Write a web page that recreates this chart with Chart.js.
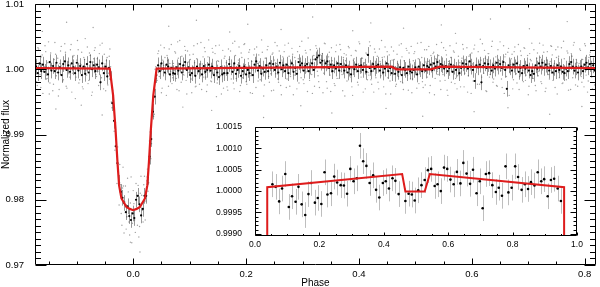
<!DOCTYPE html>
<html>
<head>
<meta charset="utf-8">
<title>Phase-folded light curve</title>
<script src="https://cdn.jsdelivr.net/npm/chart.js@4.4.1/dist/chart.umd.min.js"></script>
<style>
  html, body { margin: 0; padding: 0; background: #fff; }
  #wrap { position: relative; width: 600px; height: 287px; }
  #main { position: absolute; left: 0; top: 0; }
  #inset { position: absolute; left: 215px; top: 118px; }
</style>
</head>
<body>
<div id="wrap">
  <canvas id="main" width="600" height="287"></canvas>
  <canvas id="inset" width="370" height="135"></canvas>
</div>
<script>
// flux values below are in units of 1e-4 relative to 1.0 unless noted

// binned points (black, with error bars), evenly spaced in phase
const binStart = -0.172, binStep = 0.003;
const binErr = 0.0012;
const binFlux = [
  4, -6, 9, -3, 7, -4, 2, -8, 11, -2, 5, -3, 10, -5, 3, -9, 8, 12, -1, 6,
  -4, 9, 3, -6, 10, -2, 5, -9, 4, -7, 8, -5, 11, 0, 6, -3, 7, 3, -20, 9,
  -6, 4, -11, 2,
  // transit
  -15, -52, -79, -118, -144, -174, -188, -197, -205, -219, -210, -225, -231, -221,
  -228, -200, -194, -207, -224, -214, -194, -194, -165, -134, -107, -65, -42, -9,
  // after transit
  6, -3, 9, 1, -5, 7, 4, -8, 2, -6,   -7, 3, -2, 8, -5, 6, 11, -1, 3, -9,
  -6, 2, -10, 4, -3, 1, -8, 5, -4, -1,   7, -2, 4, -9, 1, -5, -12, 3, -8, -6,
  2, -6, 8, 3, -4, 9, -7, -1, 5, -10,   -3, 4, -8, -1, -6, 2, -9, 7, 12, -2,
  5, -7, 1, -4, 6, -3, 9, 2, 8, -1,   4, -5, 10, 0, 6, -3, 7, -6, 3, 9,
  -4, 2, -7, 11, 6, 9, -2, 5, 8, -3,   4, 9, -1, 15, 18, 21, 10, 13, 3, 9,
  12, 2, 7, -3, 6, 1, 9, -2, 8, 4,   -2, 6, -5, 1, -8, 3, 0, 7, -3, 5,
  6, -1, 4, -4, 22, 2, -3, 8, 1, 5,   7, -2, 4, -5, 1, 9, -3, 2, -6, 3,
  -7, 1, -4, 3, -9, 2, -1, -6, 4, -3,   -5, -1, 3, -8, 4, 0, -3, 6, -2, 5,
  3, 7, -1, 9, 4, 11, 2, 8, 6, 1,   5, -3, 2, 7, -4, 4, -1, 3, -6, 2,
  9, 3, 8, 1, 12, 4, -1, -18, 6, 3,   7, -20, 5, 9, 2, 8, 3, -2, 6, 1,
  10, 4, 8, 2, 11, -1, -30, 6, 3, -2,   7, 3, 9, -4, 2, -6, 5, 1, 6, -2,
  -9, -3, -7, 6, 1, 9, 4, 10, 2, 7,   3, -2, 5, -5, 2, -3, 6, -1, 4, -4,
  -6, 1, -3, 8, 11, 4, -2, 3, -5, 2,   4, -3, 7, 10, 3, 8, 1, 6, -2
];

// unbinned points (light grey), two interleaved phase grids
const rawStep = 0.0025, rawStartA = -0.1725, rawStartB = -0.17125;
const rawA = [
  12, -25, 31, -8, 19, -37, 4, 27, -14, 42, -21, 6, -33, 15, 23, -5, -41, 9, 35, -18,
  2, 26, -29, 11, -12, 38, -6, 21, -45, 14, 30, -16, 7, -27, 18, 47, -9, -22, 25, 3,
  -35, 16, 33, -11, -3, 24, -19, 40, -30, 8, 13, -24, 20,
  4, -59, -41, -124, -116, -119, -208, -177, -239, -179, -203, -245, -167, -234, -205, -266,
  -186, -231, -175, -239, -257, -190, -193, -234, -164, -202, -153, -174, -96, -114, -61, -69, 4,
  -17, 28, 5, -36, 14, 33, -7, 21, -26, 9, 38, -13, -2, 25, -31, 17, 44, -20, 6, -9,
  29, -38, 11, 22, -15, 3, 36, -27, 16, -4, -23, 41, 8, -12, 27, -34, 19, 1, -18, 32,
  -6, 24, -42, 13, 37, -10, 5, -29, 20, 10, -32, 15, 28, -3, -21, 43, -14, 7, 34, -25,
  18, -8, 39, -19, 2, 26, -36, 12, -1, 31, -28, 9, 22, -16, 45, -5, -24, 17, 30, -11,
  4, -33, 25, 14, -7, 36, -20, 8, -39, 19, 27, -2, -15, 40, -26, 11, 23, -9, 3, -30,
  16, 35, -13, 6, -22, 29, -4, 48, -17, 10, -37, 21, 1, 32, -10, -28, 15, 24, -6, 39,
  -19, 7, 26, -34, 13, 2, -25, 37, 9, -14, 30, -8, 18, -41, 22, 5, 33, -12, -27, 14,
  1, 28, -20, 42, -3, 17, -35, 10, 25, -16, -9, 36, -23, 6, 31, -13, 20, -30, 12, 44,
  -5, 19, -38, 27, 8, -18, 34, -1, 15, -26, 23, -11, 4, 39, -21, 13, -7, 29, -32, 11,
  35, -15, 24, -4, -29, 16, 2, 41, -19, 7, -24, 30, 12, -36, 21, -2, 26, -14, 38, -8,
  14, -31, 5, 33, -17, 22, -40, 9, 18, -3, 28, -22, 40, -10, 3, -27, 17, 31, -6, 13,
  -35, 20, -1, 25, -18, 37, 6, -23, 11, 46, -12, 2, 29, -33, 15, 24, -8, 35, -20, 4,
  19, -26, 10, 42, -15, 7, -37, 23, 1, 32, -4, 16, -30, 27, 9, -21, 38, -11, 21, -2,
  33, -17, 6, -39, 24, 13, -6, 30, -25, 17, -10, 40, -19, 3, 26, -34, 14, 8, -15, 36,
  22, -7, -28, 18, 34, -13, 5, -22, 43, 0, -16, 25, 11, -31, 20, 37, -3, 15, -26, 9,
  29, -20, 3, 39, -9, -35, 18, 26, -12, 7, -24, 21
];
const rawB = [
  -19, 33, 7, -28, 22, -4, 36, -15, 10, -38, 25, 1, -23, 41, -10, 17, -31, 28, 5, -16,
  39, -26, 12, -7, 30, -35, 19, 3, -12, 44, -21, 8, 26, -30, 15, -2, 34, -17, 21, -40,
  11, 29, -8, 16, -25, 37, -13, 4, 23, -33, 18, -6, 31,
  -50, -32, -95, -82, -175, -152, -146, -221, -182, -251, -179, -226, -188, -254, -165, -236,
  -206, -250, -194, -178, -241, -164, -216, -177, -231, -171, -187, -110, -137, -65, -72, 0, -14,
  24, -11, 37, -29, 6, 18, -40, 13, 31, -3, -22, 9, 27, -14, 42, -33, 2, 20, -8, 35,
  -17, 28, -5, 15, -36, 23, 10, -26, 39, -1, 8, -31, 19, 33, -12, -24, 45, 4, -19, 26,
  -9, 36, -21, 12, 1, -38, 29, 17, -6, -27, 31, 3, -15, 40, -30, 21, -2, 14, -34, 25,
  -13, 38, 7, -23, 16, 30, -10, -37, 22, 5, 34, -18, 11, -4, 26, -41, 17, 2, 35, -20,
  -7, 23, -32, 41, 9, -15, 28, -25, 14, 1, 37, -28, 6, 20, -11, 32, -39, 18, -2, 27,
  -21, 12, 43, -16, 4, 25, -34, 10, 30, -8, 15, -26, 36, -3, -19, 22, 7, -36, 40, 11,
  -29, 19, -9, 33, 2, -22, 27, -14, 5, 38, -4, -33, 24, 13, -18, 35, -7, 21, -40, 16,
  29, 0, -24, 39, -12, 17, 8, -30, 23, -5, 42, -16, 10, -35, 26, 3, -20, 31, -10, 18,
  -27, 34, 6, -13, 22, -38, 14, 28, -1, -23, 9, 37, -19, 19, -31, 4, 32, -9, 25, -15,
  -36, 13, 27, -5, 40, -22, 1, 18, -28, 30, 11, -12, 35, -25, 7, 24, -39, 16, -3, 21,
  -18, 41, -8, 3, 29, -32, 12, 36, -20, 6, 26, -14, -30, 20, 10, -4, 38, -27, 15, 33,
  -10, 22, -37, 8, 31, -17, 5, 27, -23, 14, 39, -6, 17, -34, 24, -12, 2, 43, -15, 9,
  -25, 30, 13, -2, -28, 36, 19, -11, 26, -40, 7, 23, -16, 34, -7, 11, -31, 28, 4, -19,
  32, -9, 21, -26, 15, 40, -14, 1, -33, 25, -3, 18, -22, 37, 6, -29, 27, -8, 12, 35,
  -17, 9, 30, -38, 20, -1, 33, -21, 16, -6, 28, -32, 4, 24, -13, 41, -24, 10, -5, 31,
  -11, 15, -27, 36, 3, -18, 22, 38, -30, 8, 19, -9
];
// scattered outliers
const outPhase = [-0.161, -0.137, -0.118, -0.092, -0.071, -0.055, 0.063, 0.088, 0.112, 0.139,
  0.171, 0.203, 0.231, 0.262, 0.297, 0.318, 0.352, 0.389, 0.421, 0.448, 0.479, 0.513,
  0.546, 0.571, 0.604, 0.633, 0.664, 0.702, 0.738, 0.769, 0.795, 0.812, -0.005, 0.012, -0.018];
const outFlux = [58, -61, 72, -55, 64, -70, 66, -58, 75, -63, 57, 69, -74, 61, -56, 80, -67,
  59, 71, -60, 63, -72, 68, 55, -65, 77, -59, 62, -69, 73, -57, 60, -265, -280, -150];

// model (red)
const modelPhase = [-0.174, -0.0415, -0.0356, -0.0314, -0.0279, -0.025, -0.0208, -0.016, -0.012,
  -0.006, 0, 0.006, 0.012, 0.016, 0.0208, 0.025, 0.0279, 0.0314, 0.0356, 0.0415,
  0.457, 0.467, 0.527, 0.543, 0.82];
const modelFlux = [1.00017, 1.00009, 0.9960, 0.9909, 0.9858, 0.9822, 0.9802, 0.9795, 0.9789,
  0.9786, 0.9784, 0.9786, 0.9789, 0.9795, 0.9802, 0.9822, 0.9858, 0.9909, 0.9960, 1.00009,
  1.00040, 0.99999, 0.99999, 1.00040, 1.00018];

// inset: out-of-transit zoom (absolute flux)
const insetPhase = [0.054, 0.064, 0.075, 0.084, 0.094, 0.105, 0.115, 0.126, 0.135, 0.145,
  0.156, 0.166, 0.174, 0.186, 0.195, 0.206, 0.216, 0.225, 0.236, 0.246,
  0.255, 0.266, 0.276, 0.286, 0.296, 0.306, 0.316, 0.326, 0.336, 0.346,
  0.356, 0.367, 0.376, 0.386, 0.397, 0.406, 0.416, 0.427, 0.436, 0.446,
  0.467, 0.477, 0.487, 0.496, 0.507,
  0.517, 0.527, 0.537, 0.547, 0.558, 0.567, 0.577, 0.587, 0.597, 0.607,
  0.617, 0.627, 0.638, 0.647, 0.657, 0.668, 0.677, 0.688, 0.698, 0.707,
  0.717, 0.727, 0.737, 0.748, 0.757, 0.767, 0.778, 0.787, 0.797, 0.808,
  0.817, 0.828, 0.838, 0.848, 0.857, 0.868, 0.878, 0.889, 0.898, 0.909,
  0.919, 0.929, 0.940, 0.950];
const insetFlux = [1.00016, 1.00010, 0.99976, 1.00006, 1.00040, 0.99963, 0.99988, 0.99975, 1.00010, 0.99969,
  0.99944, 0.99993, 1.00019, 0.99973, 0.99984, 0.99970, 1.00044, 0.99992, 0.99995, 1.00034,
  1.00020, 1.00014, 1.00013, 0.99994, 1.00052, 1.00023, 1.00030, 1.00106, 1.00070, 1.00059,
  1.00019, 1.00037, 1.00003, 0.99985, 1.00019, 1.00023, 1.00006, 1.00030, 1.00024, 0.99993,
  0.99977, 0.99994, 0.99992, 0.99978, 1.00002,
  1.00014, 1.00026, 1.00049, 1.00052, 1.00012, 1.00016, 1.00000, 1.00055, 1.00052, 1.00027,
  1.00016, 1.00045, 1.00018, 1.00066, 1.00041, 1.00017, 1.00050, 0.99995, 1.00023, 0.99960,
  1.00040, 1.00042, 1.00014, 0.99998, 1.00008, 0.99989, 1.00058, 0.99997, 1.00008, 1.00058,
  1.00033, 1.00003, 1.00016, 1.00005, 1.00021, 1.00013, 1.00044, 1.00023, 1.00028, 0.99988,
  1.00026, 1.00029, 1.00006, 0.99977];
const insetErr = 0.0003;
const insetModelPhase = [0.038, 0.038, 0.457, 0.467, 0.527, 0.543, 0.960, 0.960];
const insetModelFlux = [0.9980, 1.00009, 1.00040, 0.99999, 0.99999, 1.00040, 1.00009, 0.9980];

// axis ticks
const xTicks = [0.0, 0.2, 0.4, 0.6, 0.8];
const yTicks = [0.97, 0.98, 0.99, 1.00, 1.01];
const insetXTicks = [0.0, 0.2, 0.4, 0.6, 0.8, 1.0];
const insetYTicks = [0.9990, 0.9995, 1.0000, 1.0005, 1.0010, 1.0015];

const e4 = v => 1 + v * 1e-4;
const RED = 'rgb(222,28,28)';
const FONT = "'Liberation Sans', Arial, sans-serif";

function eachTick(scale, minor, major, fn) {
  const n0 = Math.ceil(scale.min / minor - 1e-6), n1 = Math.floor(scale.max / minor + 1e-6);
  for (let n = n0; n <= n1; n++) {
    const v = n * minor, r = v / major;
    fn(v, Math.abs(r - Math.round(r)) < 1e-6);
  }
}

// box frame with inward major/minor ticks on all four sides (IDL style)
const frameTicks = {
  id: 'frameTicks',
  beforeDatasetsDraw(chart, args, o) {
    if (!o.fill) return;
    const a = chart.chartArea, ctx = chart.ctx;
    ctx.save();
    ctx.fillStyle = o.fill;
    ctx.fillRect(a.left, a.top, a.right - a.left, a.bottom - a.top);
    ctx.restore();
  },
  afterDatasetsDraw(chart, args, o) {
    const {ctx, chartArea: a, scales: {x, y}} = chart;
    const L = a.left + 0.5, R = a.right - 0.5, T = a.top + 0.5, B = a.bottom - 0.5;
    ctx.save();
    ctx.strokeStyle = '#000';
    ctx.lineWidth = 1;
    ctx.beginPath();
    eachTick(x, o.xMinor, o.xMajor, (v, major) => {
      const p = Math.round(x.getPixelForValue(v)) + 0.5;
      const len = major ? o.xLen : o.xLen / 2;
      ctx.moveTo(p, B); ctx.lineTo(p, B - len);
      ctx.moveTo(p, T); ctx.lineTo(p, T + len);
    });
    eachTick(y, o.yMinor, o.yMajor, (v, major) => {
      const p = Math.round(y.getPixelForValue(v)) + 0.5;
      const len = major ? o.yLen : o.yLen / 2;
      ctx.moveTo(L, p); ctx.lineTo(L + len, p);
      ctx.moveTo(R, p); ctx.lineTo(R - len, p);
    });
    ctx.rect(L, T, R - L, B - T);
    ctx.stroke();
    ctx.restore();
  }
};

const errorBars = {
  id: 'errorBars',
  beforeDatasetDraw(chart, args) {
    const ds = chart.data.datasets[args.index];
    if (!ds.err) return;
    const {ctx, chartArea: a, scales: {y}} = chart;
    ctx.save();
    ctx.beginPath();
    ctx.rect(a.left, a.top, a.right - a.left, a.bottom - a.top);
    ctx.clip();
    ctx.strokeStyle = ds.errColor;
    ctx.lineWidth = 1;
    ctx.beginPath();
    args.meta.data.forEach((pt, i) => {
      const v = ds.data[i].y, px = Math.round(pt.x) + 0.5;
      ctx.moveTo(px, y.getPixelForValue(v + ds.err));
      ctx.lineTo(px, y.getPixelForValue(v - ds.err));
    });
    ctx.stroke();
    ctx.restore();
  }
};

function axis(min, max, ticks, digits, size, fitSize, horizontal, title, pad) {
  return {
    type: 'linear', min: min, max: max,
    grid: {display: false}, border: {display: false},
    afterBuildTicks: s => { s.ticks = ticks.map(v => ({value: v})); },
    afterFit: s => {
      if (horizontal) { s.height = fitSize; s.paddingLeft = 0; s.paddingRight = 0; }
      else { s.width = fitSize; s.paddingTop = 0; s.paddingBottom = 0; }
    },
    ticks: {autoSkip: false, maxRotation: 0, padding: pad, color: '#000',
      font: {family: FONT, size: size}, callback: v => Number(v).toFixed(digits)},
    title: {display: !!title, text: title || '', color: '#000',
      font: {family: FONT, size: 10}, padding: {top: horizontal ? -2 : 0, bottom: horizontal ? -2 : 0}}
  };
}

const binPts = binFlux.map((v, i) => ({x: binStart + i * binStep, y: e4(v)}));
const rawPts = rawA.map((v, i) => ({x: rawStartA + i * rawStep, y: e4(v)}))
  .concat(rawB.map((v, i) => ({x: rawStartB + i * rawStep, y: e4(v)})))
  .concat(outFlux.map((v, i) => ({x: outPhase[i], y: e4(v)})));
const modelPts = modelPhase.map((p, i) => ({x: p, y: modelFlux[i]}));

new Chart(document.getElementById('main'), {
  type: 'scatter',
  data: {
    datasets: [
      {label: 'model', data: modelPts, showLine: true, borderColor: RED, borderWidth: 2.2,
        pointRadius: 0, tension: 0, order: 0},
      {label: 'binned', data: binPts, pointRadius: 1.1, pointBackgroundColor: '#000',
        pointBorderWidth: 0, err: binErr, errColor: 'rgba(50,50,50,0.5)', order: 1},
      {label: 'unbinned', data: rawPts, pointRadius: 0.7, pointBackgroundColor: 'rgb(160,160,160)',
        pointBorderWidth: 0, order: 2}
    ]
  },
  options: {
    responsive: false, animation: false, events: [],
    layout: {padding: {top: 2, right: 1, left: 0, bottom: 0}},
    plugins: {legend: {display: false}, tooltip: {enabled: false},
      frameTicks: {xMinor: 0.05, xMajor: 0.2, xLen: 6, yMinor: 0.001, yMajor: 0.01, yLen: 11}},
    scales: {
      x: axis(-0.174, 0.82, xTicks, 1, 9.5, 22, true, 'Phase', -4),
      y: axis(0.97, 1.01, yTicks, 2, 9.5, 35, false, 'Normalized flux', 3)
    }
  },
  plugins: [frameTicks, errorBars]
});

new Chart(document.getElementById('inset'), {
  type: 'scatter',
  data: {
    datasets: [
      {label: 'model', data: insetModelPhase.map((p, i) => ({x: p, y: insetModelFlux[i]})),
        showLine: true, borderColor: RED, borderWidth: 2, pointRadius: 0, tension: 0, order: 0},
      {label: 'binned', data: insetPhase.map((p, i) => ({x: p, y: insetFlux[i]})),
        pointRadius: 1.3, pointBackgroundColor: '#000', pointBorderWidth: 0,
        err: insetErr, errColor: 'rgb(190,190,190)', order: 1}
    ]
  },
  options: {
    responsive: false, animation: false, events: [],
    layout: {padding: {top: 9, right: 8, left: 0, bottom: 0}},
    plugins: {legend: {display: false}, tooltip: {enabled: false},
      frameTicks: {fill: '#fff', xMinor: 0.05, xMajor: 0.2, xLen: 3, yMinor: 0.0001, yMajor: 0.0005, yLen: 6}},
    scales: {
      x: axis(0, 1, insetXTicks, 1, 8.5, 17, true, null, -4),
      y: axis(0.99895, 1.0015, insetYTicks, 4, 8.5, 40, false, null, 5)
    }
  },
  plugins: [frameTicks, errorBars]
});
</script>
</body>
</html>
